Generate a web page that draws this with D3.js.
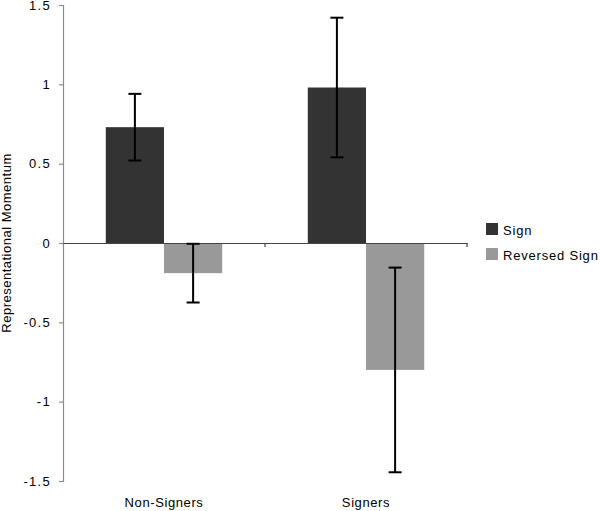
<!DOCTYPE html>
<html>
<head>
<meta charset="utf-8">
<script src="https://cdn.jsdelivr.net/npm/d3@7"></script>
<style>
  html, body { margin: 0; padding: 0; background: #fff; }
  svg { display: block; }
  text { font-family: "Liberation Sans", Arial, sans-serif; fill: #000; }
</style>
</head>
<body>
<svg id="chart" width="600" height="511"></svg>
<script>
const categories = ["Non-Signers", "Signers"];
const seriesNames = ["Sign", "Reversed Sign"];
const signValues = [0.73, 0.98];
const reversedValues = [-0.19, -0.80];
const signErrors = [0.21, 0.44];
const reversedErrors = [0.185, 0.645];
const yTicks = [1.5, 1, 0.5, 0, -0.5, -1, -1.5];
const yTickLabels = ["1.5", "1", "0.5", "0", "-0.5", "-1", "-1.5"];
const colors = ["#333333", "#999999"];

const svg = d3.select("#chart");
const mLeft = 63, mRight = 467, mTop = 5, mBottom = 481;

const y = d3.scaleLinear().domain([-1.5, 1.5]).range([mBottom, mTop]);
const x0 = d3.scaleBand().domain(categories).range([mLeft, mRight]).paddingInner(0).paddingOuter(0);
const x1 = d3.scaleBand().domain(seriesNames).range([0, x0.bandwidth()]).paddingInner(0).paddingOuter(0.735);

const data = [];
categories.forEach((c, i) => {
  data.push({cat: c, series: seriesNames[0], value: signValues[i], err: signErrors[i]});
  data.push({cat: c, series: seriesNames[1], value: reversedValues[i], err: reversedErrors[i]});
});
const color = d3.scaleOrdinal().domain(seriesNames).range(colors);

// Bars
svg.append("g").selectAll("rect").data(data).join("rect")
  .attr("x", d => x0(d.cat) + x1(d.series))
  .attr("width", x1.bandwidth())
  .attr("y", d => y(Math.max(0, d.value)))
  .attr("height", d => Math.abs(y(d.value) - y(0)))
  .attr("fill", d => color(d.series));

// Y axis
const yAxis = d3.axisLeft(y).tickValues(yTicks).tickSize(4).tickPadding(9)
  .tickFormat((d, i) => yTickLabels[i]);
const gy = svg.append("g").attr("transform", `translate(${mLeft},0)`).call(yAxis);
gy.select(".domain").attr("stroke", "#8c8c8c").attr("stroke-width", 1.2);
gy.selectAll(".tick line").attr("stroke", "#8c8c8c").attr("stroke-width", 1.2);
gy.selectAll(".tick text")
  .attr("font-size", 13).attr("fill", "#000")
  .style("font-family", '"Liberation Sans", Arial, sans-serif')
  .style("letter-spacing", "1.3px").attr("dx", "1");

// Zero line with category boundary ticks
const xAxis = d3.axisBottom(x0).tickValues([]).tickSizeOuter(0);
const gx = svg.append("g").attr("transform", `translate(0,${y(0)})`).call(xAxis);
gx.select(".domain").attr("stroke", "#444").attr("stroke-width", 1.2);
const boundaries = categories.map(c => x0(c) + x0.bandwidth());
gx.selectAll(".bnd").data(boundaries).join("line").attr("class", "bnd")
  .attr("x1", d => d).attr("x2", d => d).attr("y1", 0).attr("y2", 4)
  .attr("stroke", "#444").attr("stroke-width", 1.2);

// Category labels
svg.append("g").selectAll("text").data(categories).join("text")
  .attr("x", d => x0(d) + x0.bandwidth() / 2)
  .attr("y", 507)
  .attr("text-anchor", "middle")
  .attr("font-size", 13)
  .style("letter-spacing", "0.6px")
  .text(d => d);

// Error bars
const capW = 6.5;
const cx = d => x0(d.cat) + x1(d.series) + x1.bandwidth() / 2;
const eb = svg.append("g").attr("stroke", "#000").attr("stroke-width", 2);
eb.selectAll("line.v").data(data).join("line").attr("class", "v")
  .attr("x1", cx).attr("x2", cx)
  .attr("y1", d => y(d.value + d.err))
  .attr("y2", d => y(d.value - d.err));
eb.selectAll("line.t").data(data).join("line").attr("class", "t")
  .attr("x1", d => cx(d) - capW).attr("x2", d => cx(d) + capW)
  .attr("y1", d => y(d.value + d.err))
  .attr("y2", d => y(d.value + d.err));
eb.selectAll("line.b").data(data).join("line").attr("class", "b")
  .attr("x1", d => cx(d) - capW).attr("x2", d => cx(d) + capW)
  .attr("y1", d => y(d.value - d.err))
  .attr("y2", d => y(d.value - d.err));

// Y axis title
svg.append("text")
  .attr("transform", `translate(11,${(mTop + mBottom) / 2}) rotate(-90)`)
  .attr("text-anchor", "middle")
  .attr("font-size", 13)
  .style("letter-spacing", "0.5px")
  .text("Representational Momentum");

// Legend
const lg = svg.append("g").attr("transform", "translate(486,223)");
const items = lg.selectAll("g").data(seriesNames).join("g")
  .attr("transform", (d, i) => `translate(0,${i * 25})`);
items.append("rect").attr("width", 12).attr("height", 12).attr("fill", d => color(d));
items.append("text").attr("x", 17).attr("y", 12).attr("font-size", 13)
  .style("letter-spacing", "0.8px").text(d => d);
</script>
</body>
</html>
